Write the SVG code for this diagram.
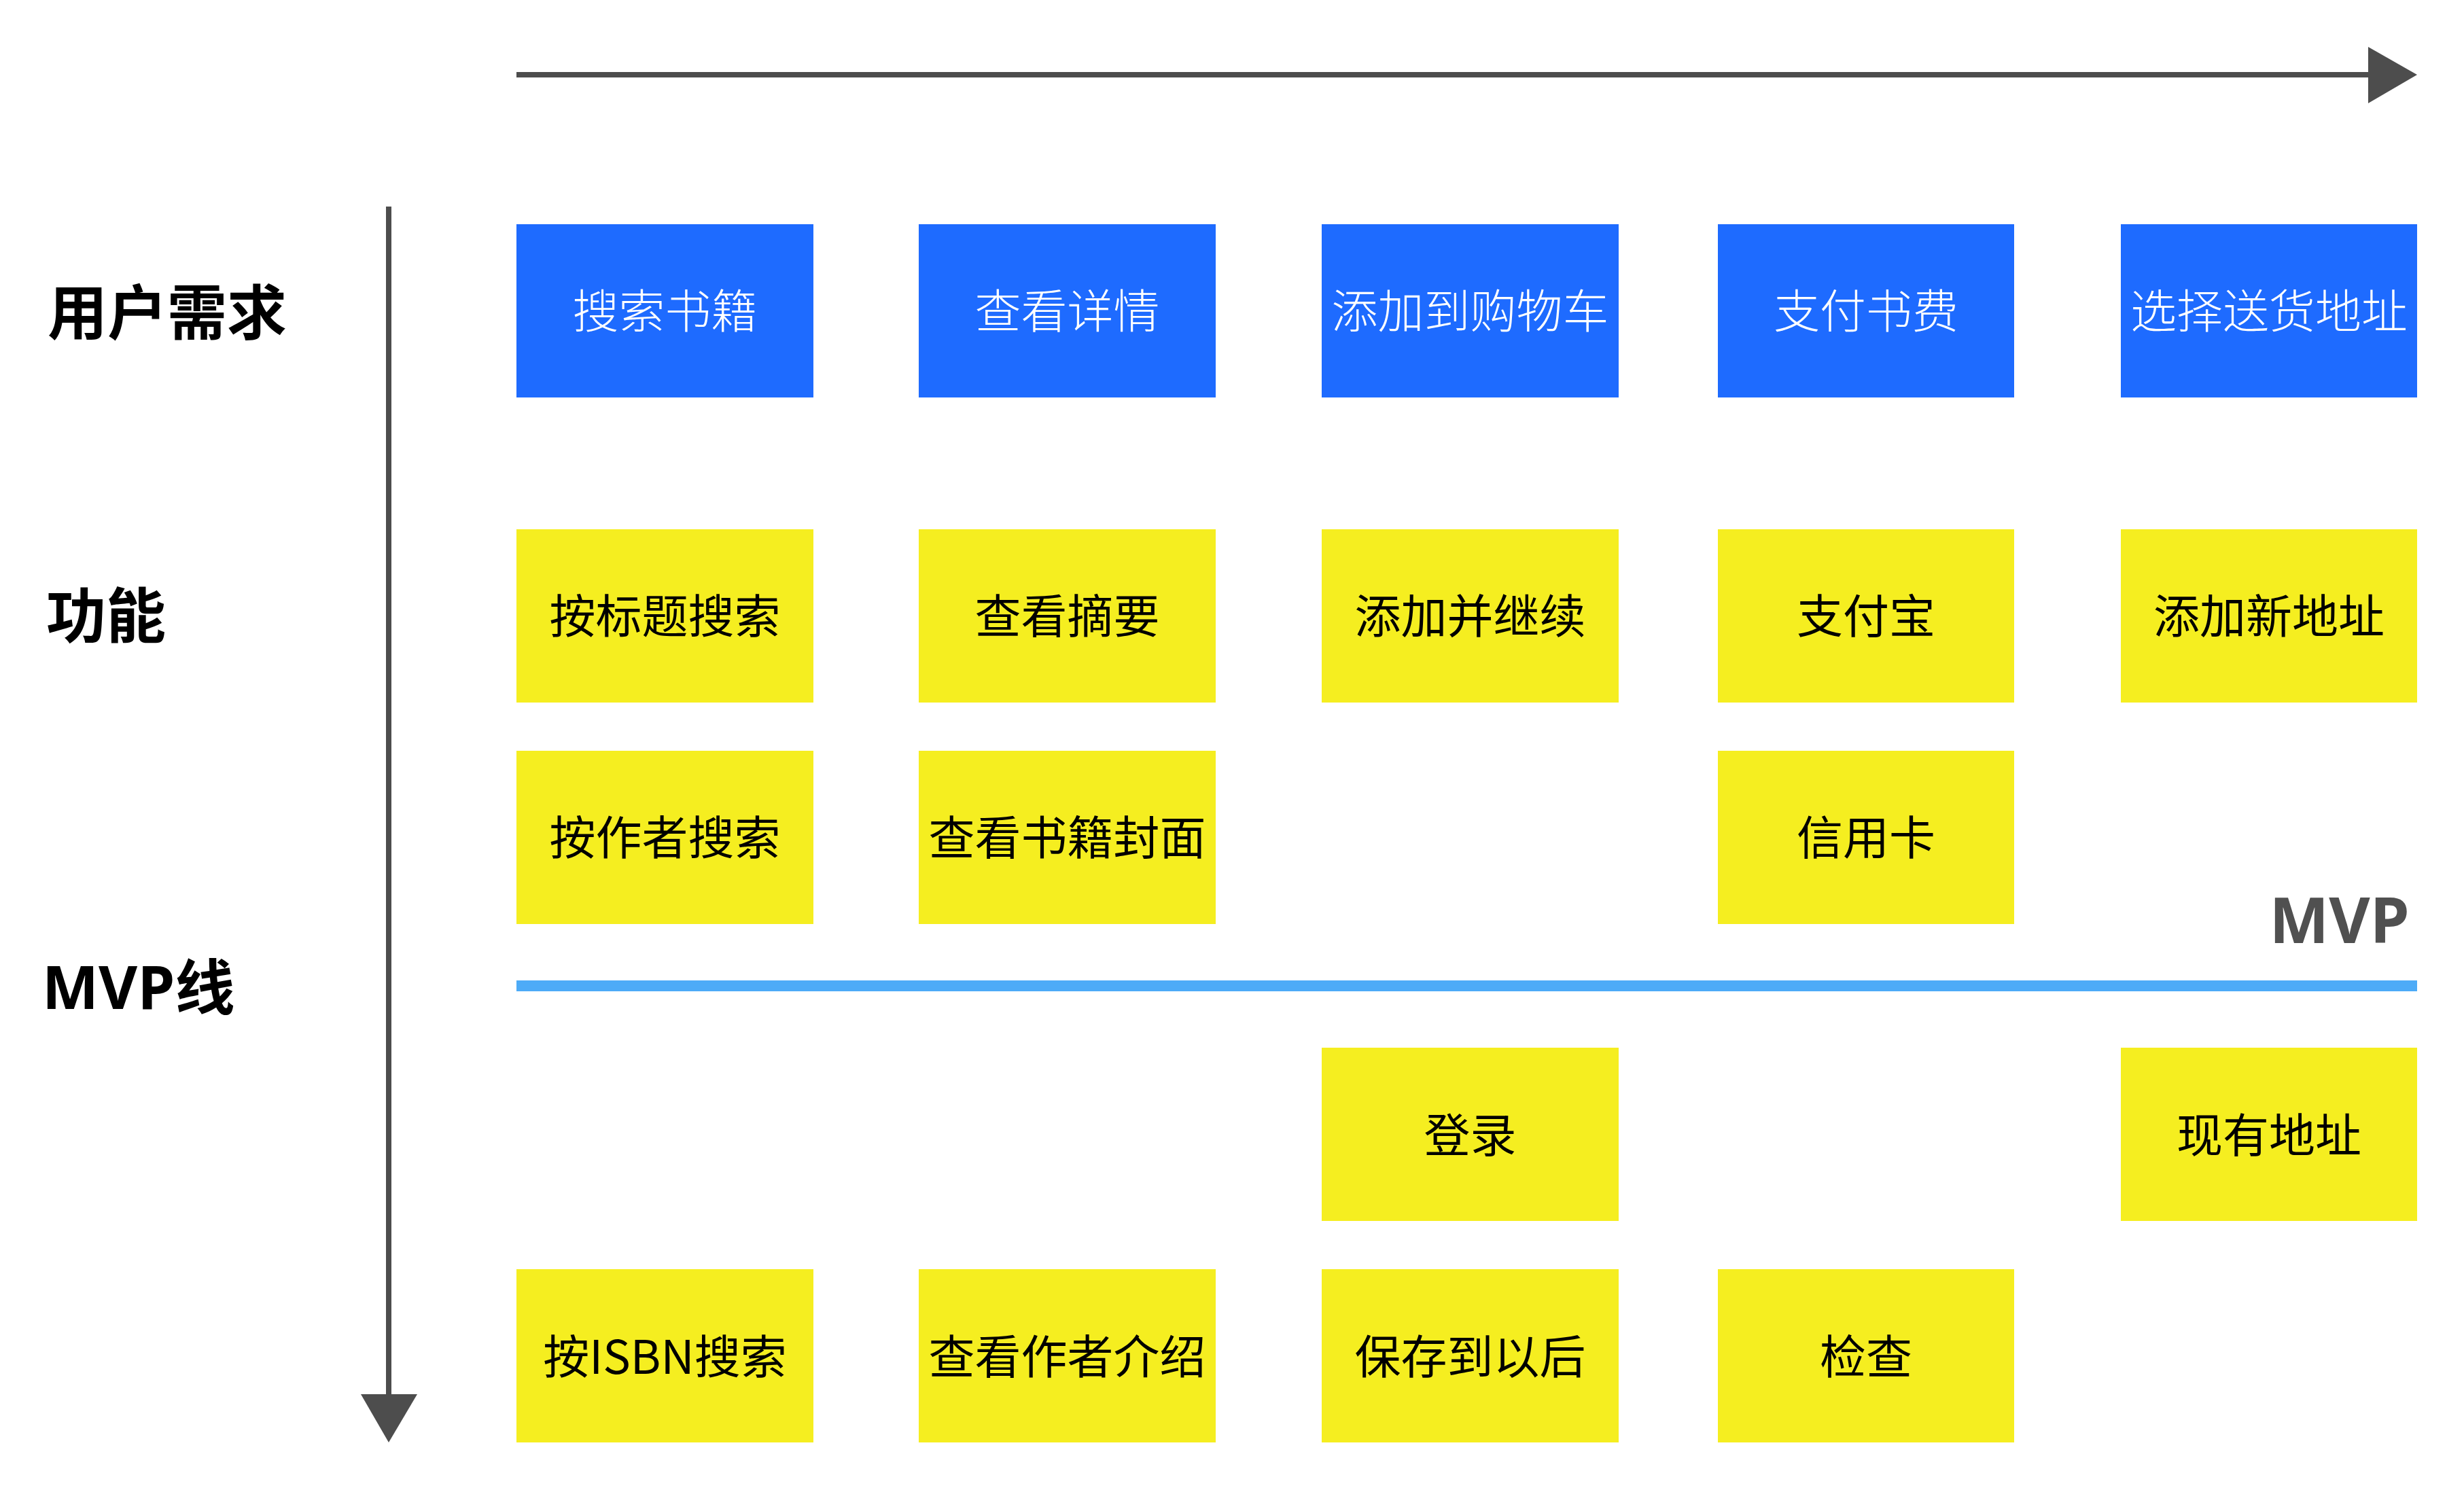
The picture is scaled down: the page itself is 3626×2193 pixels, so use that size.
<svg xmlns="http://www.w3.org/2000/svg" width="3626" height="2193" viewBox="0 0 3626 2193">
<style>
.need{fill:#1e6bff}
.feat{fill:#f5ee20}
.tw{font-family:"Noto Sans CJK SC","Noto Sans",sans-serif;font-size:68px;font-weight:300;fill:#ffffff;text-anchor:middle}
.tb{font-family:"Noto Sans CJK SC","Noto Sans",sans-serif;font-size:68px;font-weight:400;fill:#000000;text-anchor:middle}
.lab{font-family:"Open Sans","Noto Sans CJK SC",sans-serif;font-size:88px;font-weight:700;fill:#000000}
.axis{stroke:#4d4d4d;stroke-width:8;fill:none}
</style>
<rect width="3626" height="2193" fill="#ffffff"/>
<g id="connectors">
<line class="axis" x1="760" y1="110" x2="3490" y2="110"/>
<polygon points="3485,69 3557,110 3485,152" fill="#4d4d4d"/>
<line class="axis" x1="572" y1="304" x2="572" y2="2056"/>
<polygon points="531,2052 614,2052 572,2123" fill="#4d4d4d"/>
<rect id="mvp-line" x="760" y="1443" width="2797" height="16" fill="#4dabf7"/>
</g>
<g id="labels">
<text id="lab-need" class="lab" x="70" y="492">用户需求</text>
<text id="lab-feat" class="lab" x="68" y="938">功能</text>
<text id="lab-mvp" class="lab" x="62" y="1485" font-size="91">MVP线</text>
<text id="mvp-tag" x="3546" y="1388" font-family="Open Sans,Noto Sans CJK SC,sans-serif" font-size="93" font-weight="700" fill="#505050" text-anchor="end">MVP</text>
</g>
<g id="n1"><rect class="need" x="760" y="330" width="437" height="255"/><text class="tw" x="978.5" y="483">搜索书籍</text></g>
<g id="n2"><rect class="need" x="1352" y="330" width="437" height="255"/><text class="tw" x="1570.5" y="483">查看详情</text></g>
<g id="n3"><rect class="need" x="1945" y="330" width="437" height="255"/><text class="tw" x="2163.5" y="483">添加到购物车</text></g>
<g id="n4"><rect class="need" x="2528" y="330" width="436" height="255"/><text class="tw" x="2746" y="483">支付书费</text></g>
<g id="n5"><rect class="need" x="3121" y="330" width="436" height="255"/><text class="tw" x="3339" y="483">选择送货地址</text></g>

<g id="f1"><rect class="feat" x="760" y="779" width="437" height="255"/><text class="tb" x="978.5" y="932">按标题搜索</text></g>
<g id="f2"><rect class="feat" x="1352" y="779" width="437" height="255"/><text class="tb" x="1570.5" y="932">查看摘要</text></g>
<g id="f3"><rect class="feat" x="1945" y="779" width="437" height="255"/><text class="tb" x="2163.5" y="932">添加并继续</text></g>
<g id="f4"><rect class="feat" x="2528" y="779" width="436" height="255"/><text class="tb" x="2746" y="932">支付宝</text></g>
<g id="f5"><rect class="feat" x="3121" y="779" width="436" height="255"/><text class="tb" x="3339" y="932">添加新地址</text></g>

<g id="f6"><rect class="feat" x="760" y="1105" width="437" height="255"/><text class="tb" x="978.5" y="1258">按作者搜索</text></g>
<g id="f7"><rect class="feat" x="1352" y="1105" width="437" height="255"/><text class="tb" x="1570.5" y="1258">查看书籍封面</text></g>
<g id="f8"><rect class="feat" x="2528" y="1105" width="436" height="255"/><text class="tb" x="2746" y="1258">信用卡</text></g>

<g id="f9"><rect class="feat" x="1945" y="1542" width="437" height="255"/><text class="tb" x="2163.5" y="1696">登录</text></g>
<g id="f10"><rect class="feat" x="3121" y="1542" width="436" height="255"/><text class="tb" x="3339" y="1696">现有地址</text></g>

<g id="f11"><rect class="feat" x="760" y="1868" width="437" height="255"/><text class="tb" x="978.5" y="2022">按ISBN搜索</text></g>
<g id="f12"><rect class="feat" x="1352" y="1868" width="437" height="255"/><text class="tb" x="1570.5" y="2022">查看作者介绍</text></g>
<g id="f13"><rect class="feat" x="1945" y="1868" width="437" height="255"/><text class="tb" x="2163.5" y="2022">保存到以后</text></g>
<g id="f14"><rect class="feat" x="2528" y="1868" width="436" height="255"/><text class="tb" x="2746" y="2022">检查</text></g>
</svg>
